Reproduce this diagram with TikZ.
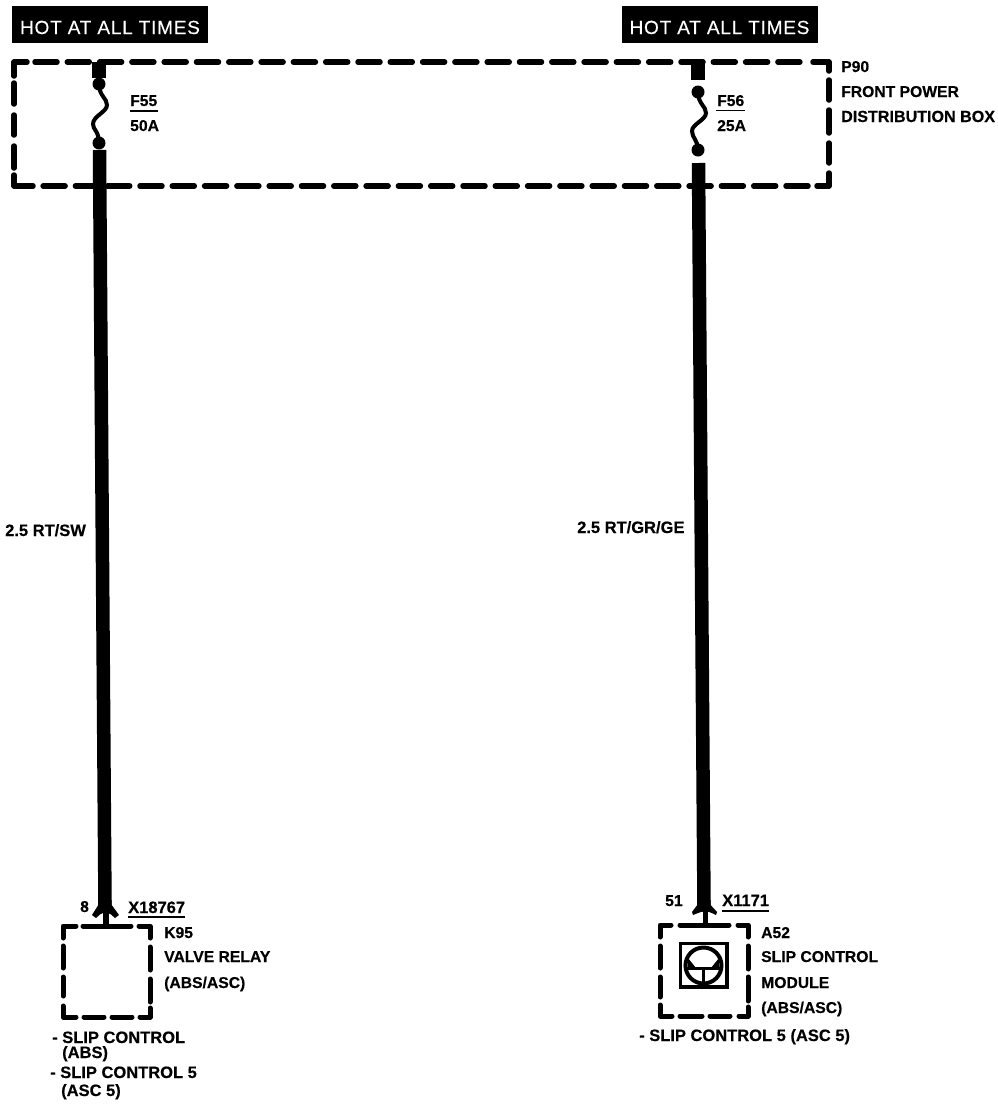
\documentclass[tikz,border=0pt]{standalone}
\usepackage{fontspec}
\setmainfont[BoldFeatures={FakeBold=0.35}]{Liberation Sans}
\newfontfamily\hotfont[FakeBold=0.25,LetterSpace=4]{Liberation Sans}
\usetikzlibrary{calc}
\tikzset{
  x=1pt,y=-1pt,
  boxline/.style={line width=5.5pt,line cap=round,line join=round,black},
  boxdash/.style={boxline,dash pattern=on 22pt off 10.3pt},
  smalldash/.style={boxline,line width=5pt},
  wire/.style={line width=13.5pt,black},
  fusewave/.style={line width=4pt,black},
  term/.style={circle,fill=black,inner sep=0pt,minimum size=13pt},
  hot/.style={fill=black,text=white,inner sep=0pt,minimum width=196pt,minimum height=37pt,font=\hotfont\fontsize{19}{19}\selectfont},
  lab/.style={anchor=base west,inner sep=0pt,font=\bfseries\fontsize{15.7}{15.7}\selectfont,text=black},
  labl/.style={lab,font=\bfseries\fontsize{16.5}{16.5}\selectfont},
  hair/.style={line width=1.8pt,black}
}
\newcommand{\hottext}{\smash{\raisebox{-9.5pt}{HOT AT ALL TIMES}}}
\begin{document}
\begin{tikzpicture}
\useasboundingbox (0,0) rectangle (998,1120);
\fill[white] (0,0) rectangle (998,1120);
% hot labels
\node[hot] (hotA) at (110,24.5) {\hottext};
\node[hot] (hotB) at (719.5,24.5) {\hottext};
% P90 box
\draw[boxline] (14,76)--(14,62)--(27,62);
\draw[boxdash] (35,62)--(806,62);
\draw[boxline] (813,62)--(829,62)--(829,71);
\draw[boxline] (829,80)--(829,100);
\draw[boxline] (829,110)--(829,133);
\draw[boxline] (829,143)--(829,163);
\draw[boxline] (829,173)--(829,186)--(817,186);
\draw[boxdash] (808,186)--(41,186);
\draw[boxline] (33,186)--(14,186)--(14,175);
\draw[boxline] (14,83)--(14,104);
\draw[boxline] (14,115)--(14,135);
\draw[boxline] (14,146)--(14,168);
% left fuse
\coordinate (fa1) at (99,62);
\coordinate (fa2) at (99,78);
\node[term] (da) at (99,84) {};
\node[term] (db) at (99,143) {};
\draw[wire] (fa1)--(fa2);
\draw[fusewave] (da.center) .. controls (99,96) and (107,98) .. (107,105) .. controls (107,112) and (93,116) .. (93,124) .. controls (93,130) and (99,131) .. (db.center);
\coordinate (wa1) at (99.5,150);
\coordinate (wa2) at (105,906);
\draw[wire] (wa1)--(wa2);
% right fuse
\coordinate (fb1) at (698,62);
\coordinate (fb2) at (698,80);
\node[term] (dc) at (698,92) {};
\node[term] (dd) at (698,150) {};
\draw[wire] (fb1)--(fb2);
\draw[fusewave] (dc.center) .. controls (698,104) and (706,106) .. (706,113) .. controls (706,120) and (692,124) .. (692,131) .. controls (692,138) and (698,140) .. (dd.center);
\coordinate (wb1) at (698.5,163);
\coordinate (wb2) at (704,906);
\draw[wire] (wb1)--(wb2);
% connectors
\fill[black] (98.3,900) -- (98.3,905) -- (92,915) -- (96,918) -- (100,914.5) .. controls (103,912) and (108,912) .. (111,914.5) -- (115,918) -- (119,915) -- (111.7,905) -- (111.7,900) -- cycle;
\draw[line width=6pt] (105.5,912)--(105.5,926);
\fill[black] (697.3,900) -- (697.3,905) -- (692,912) -- (693,915) -- (698,913) .. controls (702,911) and (708,911) .. (712,913) -- (716,915) -- (717,912) -- (710.7,905) -- (710.7,900) -- cycle;
\draw[line width=5pt] (705,911)--(705,925);
% K95 box
\draw[smalldash] (63,938)--(63,926)--(76,926);
\draw[smalldash] (83,926)--(131,926);
\draw[smalldash] (139,926)--(150,926)--(150,938);
\draw[smalldash] (150,947)--(150,970);
\draw[smalldash] (150,979)--(150,1002);
\draw[smalldash] (150,1008)--(150,1017)--(140,1017);
\draw[smalldash] (132,1017)--(112,1017);
\draw[smalldash] (104,1017)--(84,1017);
\draw[smalldash] (76,1017)--(63,1017)--(63,1006);
\draw[smalldash] (63,946)--(63,968);
\draw[smalldash] (63,977)--(63,996);
% A52 box
\draw[smalldash] (660,937)--(660,925)--(671,925);
\draw[smalldash] (680,925)--(729,925);
\draw[smalldash] (738,925)--(748,925)--(748,937);
\draw[smalldash] (748,946)--(748,969);
\draw[smalldash] (748,977)--(748,1001);
\draw[smalldash] (748,1007)--(748,1016)--(739,1016);
\draw[smalldash] (730,1016)--(710,1016);
\draw[smalldash] (702,1016)--(680,1016);
\draw[smalldash] (672,1016)--(660,1016)--(660,1005);
\draw[smalldash] (660,946)--(660,968);
\draw[smalldash] (660,977)--(660,997);
% icon
\draw[line width=3.5pt] (680.5,943.5) rectangle (727,987);
\node[circle,draw=black,line width=4pt,minimum size=36pt,inner sep=0pt] (ic) at (703.5,965.5) {};
\draw[line width=3pt] (703.5,968)--(703.5,982);
\draw[line width=3pt] (687,968)--(720,968);
\fill[black] (688,958) -- (696,968) -- (688,968) -- cycle;
\fill[black] (719,958) -- (711,968) -- (719,968) -- cycle;
% fuse labels
\node[lab] (f55) at (130,106) {F55};
\node[lab] (a50) at (130,131) {50A};
\draw[hair] (130,111)--(158,111);
\node[lab] (f56) at (717,106) {F56};
\node[lab] (a25) at (717,131) {25A};
\draw[hair] (716,110.5)--(745,110.5);
% P90 labels
\node[lab] (p90) at (841,72) {P90};
\node[lab] (p90a) at (841,97) {FRONT POWER};
\node[labl,font=\bfseries\fontsize{16.1}{16.1}\selectfont] (p90b) at (841,122) {DISTRIBUTION BOX};
% wire labels
\node[labl] (w1) at (5,536) {2.5 RT/SW};
\node[labl] (w2) at (577,533) {2.5 RT/GR/GE};
% connector labels
\node[lab] (pin8) at (80,912) {8};
\node[labl] (x1) at (128,913) {X18767};
\draw[hair] (128,917)--(185,917);
\node[lab] (pin51) at (665,906) {51};
\node[labl] (x2) at (722,906) {X1171};
\draw[hair] (722,911)--(769,911);
% K95 labels
\node[lab] (k1) at (164,938) {K95};
\node[lab] (k2) at (164,962) {VALVE RELAY};
\node[lab] (k3) at (164,988) {(ABS/ASC)};
\node[labl] (k4) at (52,1043) {- SLIP CONTROL};
\node[labl] (k5) at (62,1058) {(ABS)};
\node[labl] (k6) at (50,1078) {- SLIP CONTROL 5};
\node[labl] (k7) at (61,1096) {(ASC 5)};
% A52 labels
\node[lab] (a1) at (761,938) {A52};
\node[lab] (a2) at (761,962) {SLIP CONTROL};
\node[lab] (a3) at (761,988) {MODULE};
\node[lab] (a4) at (761,1013) {(ABS/ASC)};
\node[labl] (a5) at (639,1041) {- SLIP CONTROL 5 (ASC 5)};
\end{tikzpicture}
\end{document}
